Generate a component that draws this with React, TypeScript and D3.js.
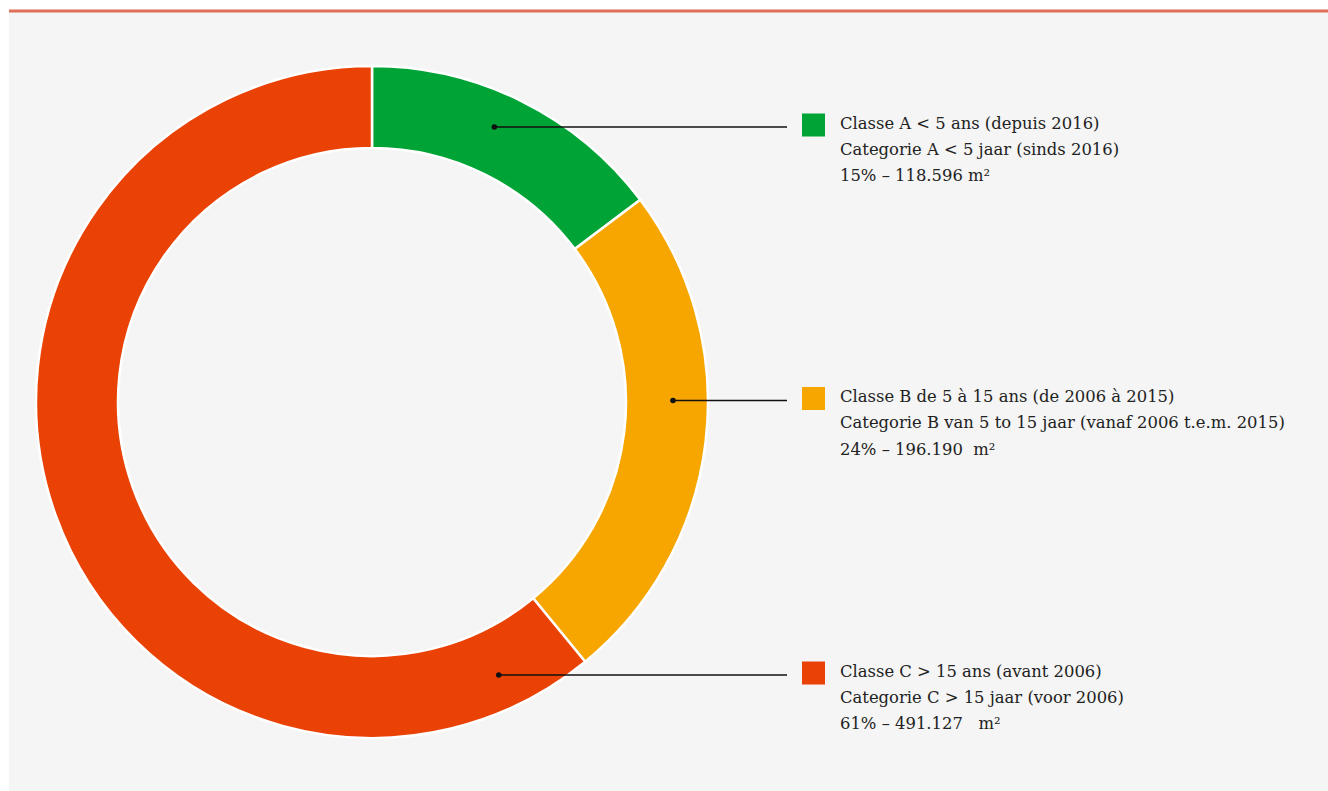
import React, { useEffect, useRef } from 'react'
import { select, pie, arc, PieArcDatum } from 'd3'

// surfaces per class (m²)
const classes = ['A', 'B', 'C']
const surfaces = [118596, 196190, 491127]
const colors = ['#00a335', '#f7a600', '#ea4104']
const labelsFr = [
  'Classe A < 5 ans (depuis 2016)',
  'Classe B de 5 à 15 ans (de 2006 à 2015)',
  'Classe C > 15 ans (avant 2006)',
]
const labelsNl = [
  'Categorie A < 5 jaar (sinds 2016)',
  'Categorie B van 5 to 15 jaar (vanaf 2006 t.e.m. 2015)',
  'Categorie C > 15 jaar (voor 2006)',
]
const labelsValue = ['15% – 118.596 m²', '24% – 196.190  m²', '61% – 491.127   m²']

const W = 1328
const H = 791

export default function App() {
  const svgRef = useRef<SVGSVGElement>(null)

  useEffect(() => {
    document.body.style.margin = '0'
    const svg = select(svgRef.current)
    svg.selectAll('*').remove()

    // panel + top rule
    svg.append('rect').attr('x', 9).attr('y', 12).attr('width', W - 9).attr('height', H - 12).attr('fill', '#f4f5f4')
    svg.append('rect').attr('x', 9).attr('y', 9.5).attr('width', W - 9).attr('height', 3).attr('fill', '#df7057')

    const cx = 372, cy = 402
    const outer = 336, inner = 254
    const g = svg.append('g').attr('transform', `translate(${cx},${cy})`)

    const data = classes.map((c, i) => ({ c, v: surfaces[i], i }))
    const arcs = pie<any>().sort(null).value(d => d.v)(data)
    const arcGen = arc<PieArcDatum<any>>().innerRadius(inner).outerRadius(outer)

    g.selectAll('path.slice')
      .data(arcs)
      .join('path')
      .attr('class', 'slice')
      .attr('d', arcGen)
      .attr('fill', d => colors[d.data.i])
      .attr('stroke', '#ffffff')
      .attr('stroke-width', 2.5)
      .attr('stroke-linejoin', 'round')

    // legend rows, anchored at fixed heights
    const rowY = [127, 400.5, 675]
    const midR = 301
    const lineEnd = 787
    const font = '"DejaVu Serif", serif'

    data.forEach((d, i) => {
      const y = rowY[i]
      const dy = y - cy
      const dotX = cx + Math.sqrt(midR * midR - dy * dy)
      svg.append('line')
        .attr('x1', dotX).attr('x2', lineEnd)
        .attr('y1', y).attr('y2', y)
        .attr('stroke', '#111111').attr('stroke-width', 1.4)
      svg.append('circle').attr('cx', dotX).attr('cy', y).attr('r', 2.8).attr('fill', '#111111')
      svg.append('rect')
        .attr('x', 802).attr('y', y - 13.5)
        .attr('width', 23).attr('height', 23)
        .attr('fill', colors[i])

      const t = svg.append('text')
        .attr('x', 840)
        .attr('y', y + 1.5)
        .attr('font-family', font)
        .attr('font-size', 16.4)
        .attr('fill', '#222222')
        .style('white-space', 'pre')
      ;[labelsFr[i], labelsNl[i], labelsValue[i]].forEach((s, k) => {
        t.append('tspan').attr('x', 840).attr('dy', k === 0 ? 0 : 26.4).text(s)
      })
    })
  }, [])

  return (
    <svg
      ref={svgRef}
      width={W}
      height={H}
      style={{ display: 'block', position: 'absolute', left: 0, top: 0 }}
    />
  )
}
